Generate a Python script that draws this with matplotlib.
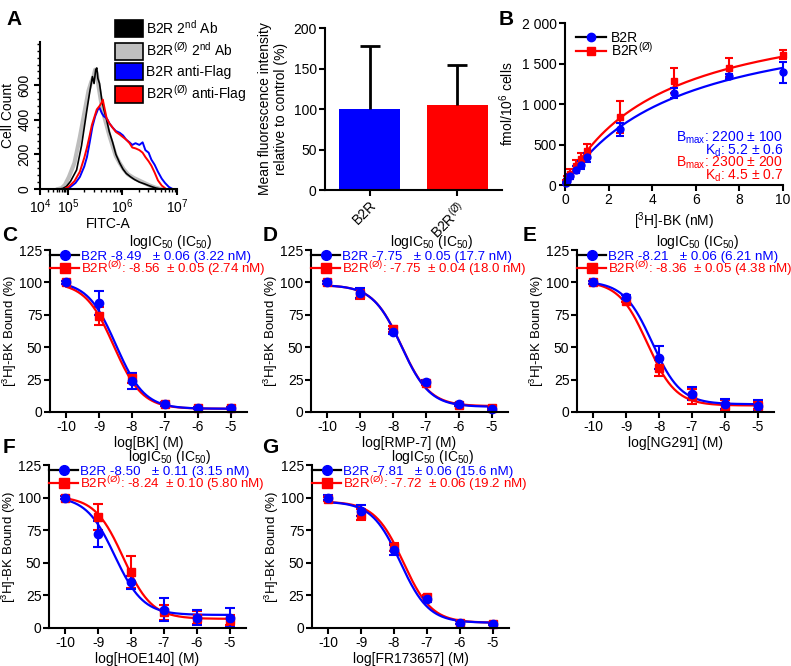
import numpy as np
import matplotlib.pyplot as plt
from matplotlib.lines import Line2D
from matplotlib.patches import Patch
from matplotlib.ticker import MultipleLocator, FixedLocator

plt.rcParams['font.family'] = ['Liberation Sans', 'DejaVu Sans']
plt.rcParams['mathtext.fontset'] = 'custom'
plt.rcParams['mathtext.rm'] = 'Liberation Sans'
plt.rcParams['mathtext.it'] = 'Liberation Sans:italic'
plt.rcParams['mathtext.bf'] = 'Liberation Sans:bold'
plt.rcParams['font.size'] = 10
plt.rcParams['axes.linewidth'] = 1.5
plt.rcParams['axes.unicode_minus'] = False

BLUE = '#0000ff'
RED = '#ff0000'
MUT = r'B2R$^{\mathrm{(Ø)}}$'

# ---- A: flow cytometry histogram (x = log10 FITC-A) ----
bk_l = [4.70, 4.82, 4.95, 5.05, 5.16, 5.25, 5.35, 5.40, 5.45, 5.48, 5.51, 5.53, 5.55, 5.58, 5.62, 5.66,
        5.71, 5.76, 5.82, 5.88, 5.95, 6.01, 6.07, 6.15, 6.22, 6.31, 6.40, 6.48, 6.55, 6.62, 6.70]
bk_c = [0, 3, 15, 45, 110, 250, 460, 560, 650, 610, 690, 700, 640, 610, 520, 460,
        400, 330, 270, 200, 150, 115, 90, 70, 55, 40, 30, 20, 12, 5, 0]
gr_l = [4.65, 4.78, 4.90, 5.02, 5.12, 5.22, 5.32, 5.38, 5.43, 5.47, 5.50, 5.53, 5.56, 5.60, 5.64, 5.70,
        5.76, 5.82, 5.88, 5.95, 6.02, 6.10, 6.20, 6.30, 6.40, 6.50, 6.60, 6.70]
gr_c = [0, 5, 25, 70, 150, 300, 470, 570, 620, 650, 690, 670, 600, 520, 450, 380,
        310, 250, 190, 150, 115, 85, 65, 50, 35, 20, 8, 0]
bl_l = [4.90, 5.04, 5.14, 5.22, 5.30, 5.35, 5.40, 5.45, 5.50, 5.55, 5.58, 5.62, 5.66, 5.71, 5.76, 5.82,
        5.88, 5.95, 6.01, 6.07, 6.13, 6.18, 6.24, 6.31, 6.37, 6.42, 6.48, 6.53, 6.59, 6.65, 6.72, 6.78,
        6.85, 6.92]
bl_c = [0, 10, 35, 70, 130, 185, 270, 360, 420, 460, 470, 440, 420, 410, 380, 355,
        335, 325, 310, 285, 270, 255, 265, 255, 270, 225, 210, 170, 140, 100, 60, 35,
        12, 0]
rd_l = [4.88, 5.02, 5.12, 5.22, 5.30, 5.35, 5.40, 5.44, 5.49, 5.53, 5.58, 5.62, 5.64, 5.67, 5.71, 5.76,
        5.82, 5.88, 5.95, 6.01, 6.07, 6.13, 6.18, 6.24, 6.31, 6.37, 6.42, 6.48, 6.53, 6.59, 6.65, 6.72,
        6.80]
rd_c = [0, 15, 45, 100, 180, 240, 310, 370, 420, 460, 480, 500, 517, 470, 410, 380,
        355, 330, 315, 300, 285, 265, 240, 235, 225, 210, 185, 160, 135, 95, 50, 20,
        0]

# ---- A: mean fluorescence bars ----
bar_names = ['B2R', MUT]
bar_vals = [100, 105]
bar_err = [78, 49]

# ---- B: saturation binding ----
b_conc = [0.05, 0.1, 0.25, 0.5, 0.75, 1.0, 2.5, 5.0, 7.5, 10.0]
b_b2r = [25, 55, 110, 190, 250, 340, 690, 1140, 1340, 1390]
b_b2r_err = [15, 20, 30, 40, 50, 50, 80, 60, 25, 130]
b_mut = [40, 80, 140, 240, 320, 420, 840, 1290, 1450, 1610]
b_mut_err = [20, 30, 60, 70, 70, 90, 200, 150, 120, 60]
b_fit_b2r = (2200, 5.2)   # Bmax, Kd
b_fit_mut = (2300, 4.5)

# ---- C-G: competition binding ----
log_conc = [-10, -9, -8, -7, -6, -5]

c_b2r = [100, 84, 24, 6, 3, 3]
c_b2r_err = [1, 9, 6, 1.5, 1, 1]
c_mut = [100, 74, 26, 6, 3, 3]
c_mut_err = [1, 7, 4, 1, 1, 1]
c_fit_b2r = (101, 2.5, -8.49)   # top, bottom, logIC50
c_fit_mut = (100, 2.5, -8.56)

d_b2r = [100, 92, 62, 23, 6, 2]
d_b2r_err = [1, 4, 2, 1.5, 1, 1]
d_mut = [100, 91, 64, 22, 5.5, 3]
d_mut_err = [1, 4, 2, 1, 1, 1]
d_fit_b2r = (98, 4, -7.75)
d_fit_mut = (98, 4.5, -7.75)

e_b2r = [100, 89, 42, 14, 6, 5]
e_b2r_err = [1, 1.5, 9, 5, 4, 4]
e_mut = [100, 86, 34, 12, 5, 5]
e_mut_err = [1, 1.5, 6, 6, 4, 3]
e_fit_b2r = (101, 6, -8.21)
e_fit_mut = (101, 5, -8.36)

f_b2r = [100, 72, 35, 14, 8, 8]
f_b2r_err = [1, 10, 5, 9, 6, 7]
f_mut = [100, 85, 43, 12, 8, 6]
f_mut_err = [1, 10, 12, 6, 5, 4]
f_fit_b2r = (101, 10, -8.50)
f_fit_mut = (101, 7, -8.24)

g_b2r = [100, 90, 60, 22, 4, 3]
g_b2r_err = [2, 4, 4, 2, 1, 1]
g_mut = [99, 87, 62, 24, 4, 3]
g_mut_err = [1.5, 4, 3, 1, 1, 1]
g_fit_b2r = (97, 4, -7.81)
g_fit_mut = (97, 4, -7.72)

c_leg = ['B2R -8.49   ± 0.06 (3.22 nM)', MUT + ': -8.56  ± 0.05 (2.74 nM)']
d_leg = ['B2R -7.75   ± 0.05 (17.7 nM)', MUT + ': -7.75  ± 0.04 (18.0 nM)']
e_leg = ['B2R -8.21   ± 0.06 (6.21 nM)', MUT + ': -8.36  ± 0.05 (4.38 nM)']
f_leg = ['B2R -8.50   ± 0.11 (3.15 nM)', MUT + ': -8.24  ± 0.10 (5.80 nM)']
g_leg = ['B2R -7.81   ± 0.06 (15.6 nM)', MUT + ': -7.72  ± 0.06 (19.2 nM)']


def style(ax):
    ax.spines['top'].set_visible(False)
    ax.spines['right'].set_visible(False)
    ax.tick_params(width=1.5, length=4, labelsize=10, pad=2)


def sig(x, top, bottom, logic):
    return bottom + (top - bottom) / (1 + 10 ** (x - logic))


fig = plt.figure(figsize=(7.91, 6.66), dpi=100)

# histogram
axh = fig.add_axes([0.0506, 0.7162, 0.1732, 0.2207])


def fwd(l):
    l = np.asarray(l, dtype=float)
    return np.where(l >= 5, l, 5 - (5 - l) * 0.51)


def inv(u):
    u = np.asarray(u, dtype=float)
    return np.where(u >= 5, u, 5 - (5 - u) / 0.51)


axh.set_xscale('function', functions=(fwd, inv))
axh.plot(gr_l, gr_c, color='#bdbdbd', lw=3)
axh.plot(bk_l, bk_c, color='black', lw=1.2)
axh.plot(bl_l, bl_c, color=BLUE, lw=1.4)
axh.plot(rd_l, rd_c, color=RED, lw=1.4)
axh.set_xlim(4, 7)
axh.set_ylim(0, 850)
axh.set_xticks([4, 5, 6, 7])
axh.set_xticklabels(['$10^4$', '$10^5$', '$10^6$', '$10^7$'])
axh.xaxis.set_minor_locator(FixedLocator(
    [np.log10(k * 10 ** n) for n in range(4, 7) for k in range(2, 10)]))
axh.set_yticks([0, 200, 400, 600])
axh.yaxis.set_minor_locator(MultipleLocator(40))
style(axh)
axh.tick_params(which='minor', width=1.0, length=2.5)
axh.tick_params(axis='y', labelrotation=90)
for t in axh.get_yticklabels():
    t.set_va('center')
axh.set_xlabel('FITC-A', fontsize=10, labelpad=1)
axh.set_ylabel('Cell Count', fontsize=10, labelpad=2)
hist_handles = [Patch(fc='black', ec='black', lw=1.2),
                Patch(fc='#c0c0c0', ec='black', lw=1.2),
                Patch(fc=BLUE, ec='black', lw=1.2),
                Patch(fc=RED, ec='black', lw=1.2)]
hist_labels = [r'B2R 2$^{\mathrm{nd}}$ Ab', MUT + r' 2$^{\mathrm{nd}}$ Ab',
               'B2R anti-Flag', MUT + ' anti-Flag']
axh.legend(hist_handles, hist_labels, loc='upper left', bbox_to_anchor=(0.55, 1.16),
           frameon=False, fontsize=10, handlelength=2.0, handleheight=1.5,
           labelspacing=0.25, handletextpad=0.2, borderaxespad=0, borderpad=0)

# bars
axb = fig.add_axes([0.4109, 0.7147, 0.2238, 0.2432])
xb = np.arange(len(bar_vals))
axb.bar(xb, bar_vals, width=0.70, color=[BLUE, RED])
eb = axb.errorbar(xb, bar_vals, yerr=[[0] * len(bar_err), bar_err], fmt='none',
                  ecolor='black', elinewidth=2, capsize=7.5, capthick=2)
eb[1][0].set_visible(False)   # no cap at the bar top
axb.set_xlim(-0.51, 1.51)
axb.set_ylim(0, 200)
axb.set_yticks([0, 50, 100, 150, 200])
axb.set_xticks(xb)
axb.set_xticklabels(bar_names, rotation=45, ha='right', rotation_mode='anchor')
style(axb)
axb.set_ylabel('Mean fluorescence intensity\nrelative to control (%)', fontsize=10)

# saturation
axs = fig.add_axes([0.7143, 0.7222, 0.2756, 0.2432])
xx = np.linspace(0, 10, 200)
axs.plot(xx, b_fit_mut[0] * xx / (b_fit_mut[1] + xx), color=RED, lw=1.6)
axs.plot(xx, b_fit_b2r[0] * xx / (b_fit_b2r[1] + xx), color=BLUE, lw=1.6)
axs.errorbar(b_conc, b_mut, yerr=b_mut_err, fmt='s', color=RED, ms=5,
             elinewidth=1.5, capsize=3, capthick=1.5, clip_on=False)
axs.errorbar(b_conc, b_b2r, yerr=b_b2r_err, fmt='o', color=BLUE, ms=5,
             elinewidth=1.5, capsize=3, capthick=1.5, clip_on=False)
axs.set_xlim(0, 10)
axs.set_ylim(0, 2000)
axs.set_xticks([0, 2, 4, 6, 8, 10])
axs.set_yticks([0, 500, 1000, 1500, 2000])
axs.set_yticklabels(['0', '500', '1 000', '1 500', '2 000'])
style(axs)
axs.set_xlabel(r'[$^3$H]-BK (nM)', fontsize=10, labelpad=2)
axs.set_ylabel(r'fmol/10$^6$ cells', fontsize=10)
sat_handles = [Line2D([], [], color='black', lw=1.6, marker='o', mfc=BLUE, mec=BLUE, ms=6),
               Line2D([], [], color=RED, lw=1.6, marker='s', mfc=RED, mec=RED, ms=6)]
axs.legend(sat_handles, ['B2R', MUT], loc='upper left', bbox_to_anchor=(0.05, 0.95),
           frameon=False, fontsize=10, handlelength=2.2, handletextpad=0.3,
           labelspacing=-0.3, borderaxespad=0, borderpad=0)
sat_text = [(r'B$_{\mathrm{max}}$: 2200 ± 100', BLUE), (r'K$_{\mathrm{d}}$: 5.2 ± 0.6', BLUE),
            (r'B$_{\mathrm{max}}$: 2300 ± 200', RED), (r'K$_{\mathrm{d}}$: 4.5 ± 0.7', RED)]
for i, (s, c) in enumerate(sat_text):
    axs.text(1.0, 0.29 - i * 0.077, s, color=c, fontsize=10, ha='right', va='center',
             transform=axs.transAxes)

# competition panels
comp = [
    ([0.0632, 0.3814, 0.249, 0.2432], c_b2r, c_b2r_err, c_mut, c_mut_err, c_fit_b2r, c_fit_mut,
     c_leg, 'log[BK] (M)'),
    ([0.3932, 0.3814, 0.249, 0.2432], d_b2r, d_b2r_err, d_mut, d_mut_err, d_fit_b2r, d_fit_mut,
     d_leg, 'log[RMP-7] (M)'),
    ([0.7295, 0.3814, 0.249, 0.2432], e_b2r, e_b2r_err, e_mut, e_mut_err, e_fit_b2r, e_fit_mut,
     e_leg, 'log[NG291] (M)'),
    ([0.0620, 0.0571, 0.249, 0.2447], f_b2r, f_b2r_err, f_mut, f_mut_err, f_fit_b2r, f_fit_mut,
     f_leg, 'log[HOE140] (M)'),
    ([0.3944, 0.0571, 0.249, 0.2447], g_b2r, g_b2r_err, g_mut, g_mut_err, g_fit_b2r, g_fit_mut,
     g_leg, 'log[FR173657] (M)'),
]
xc = np.linspace(-10, -5, 300)
for rect, yb, eb_, ym, em, fb, fm, leg, xl in comp:
    ax = fig.add_axes(rect)
    ax.plot(xc, sig(xc, *fm), color=RED, lw=1.6)
    ax.errorbar(log_conc, ym, yerr=em, fmt='s', color=RED, ms=6,
                elinewidth=1.5, capsize=3.5, capthick=1.5, clip_on=False)
    ax.plot(xc, sig(xc, *fb), color=BLUE, lw=1.6)
    ax.errorbar(log_conc, yb, yerr=eb_, fmt='o', color=BLUE, ms=6,
                elinewidth=1.5, capsize=3.5, capthick=1.5, clip_on=False)
    ax.set_xlim(-10.5, -4.5)
    ax.set_ylim(0, 125)
    ax.set_xticks(log_conc)
    ax.set_yticks([0, 25, 50, 75, 100, 125])
    style(ax)
    ax.tick_params(axis='y', pad=1.5)
    ax.set_xlabel(xl, fontsize=10, labelpad=1)
    ax.set_ylabel(r'[$^3$H]-BK Bound (%)', fontsize=9.5, labelpad=0)
    ax.text(0.61, 1.05, r'logIC$_{50}$ (IC$_{50}$)', transform=ax.transAxes,
            ha='center', va='center', fontsize=10)
    hs = [Line2D([], [], color='black', lw=1.6, marker='o', mfc=BLUE, mec=BLUE, ms=7),
          Line2D([], [], color=RED, lw=1.6, marker='s', mfc=RED, mec=RED, ms=7)]
    ax.legend(hs, leg, loc='upper left', bbox_to_anchor=(0.0, 0.995), frameon=False,
              fontsize=9.6, handlelength=2.2, handletextpad=0.1, labelspacing=-0.3,
              borderaxespad=0, borderpad=0, labelcolor=[BLUE, RED])

# panel letters
for lbl, x, y in [('A', 0.008, 0.985), ('B', 0.630, 0.985), ('C', 0.003, 0.66),
                  ('D', 0.332, 0.66), ('E', 0.661, 0.66), ('F', 0.003, 0.343),
                  ('G', 0.332, 0.343)]:
    fig.text(x, y, lbl, fontsize=15, fontweight='bold', va='top', ha='left')

fig.savefig('out.png', dpi=100)
